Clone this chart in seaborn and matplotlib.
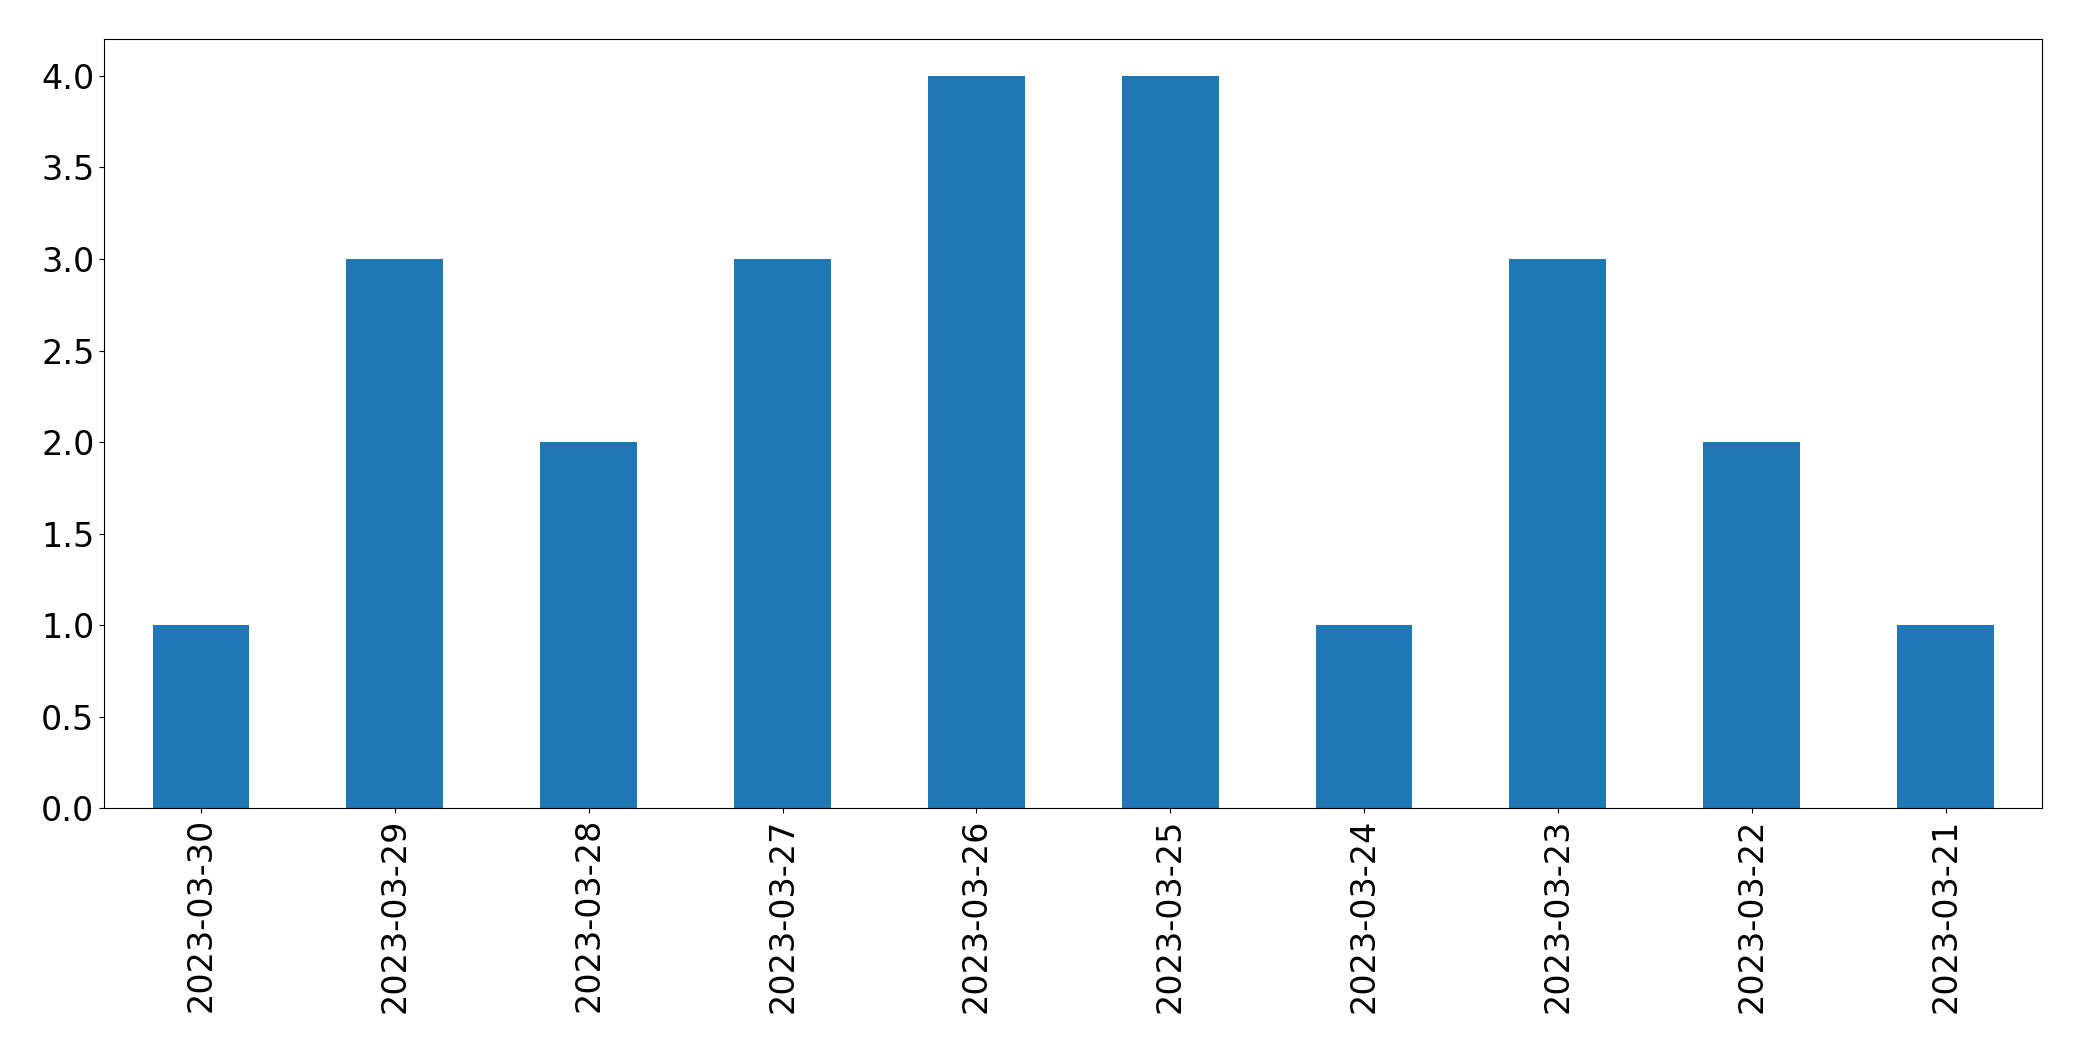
import matplotlib
matplotlib.use("Agg")
import matplotlib.pyplot as plt
import seaborn as sns
import pandas as pd

dates = ["2023-03-30","2023-03-29","2023-03-28","2023-03-27","2023-03-26",
         "2023-03-25","2023-03-24","2023-03-23","2023-03-22","2023-03-21"]
counts = [1, 3, 2, 3, 4, 4, 1, 3, 2, 1]

df = pd.DataFrame({"date": dates, "count": counts})
fig = plt.figure(figsize=(20.82, 10.61), dpi=100)
ax = fig.add_axes([0.050, 0.238, 0.931, 0.725])
sns.barplot(data=df, x="date", y="count", order=dates, color="#1f77b4",
            saturation=1, width=0.5, ax=ax)
ax.set_xlim(-0.5, 9.5)
ax.set_ylim(0, 4.2)
ax.set_xlabel("")
ax.set_ylabel("")
ax.tick_params(axis="x", labelrotation=90, labelsize=24)
ax.tick_params(axis="y", labelsize=24)
fig.savefig("out.png", dpi=100)
